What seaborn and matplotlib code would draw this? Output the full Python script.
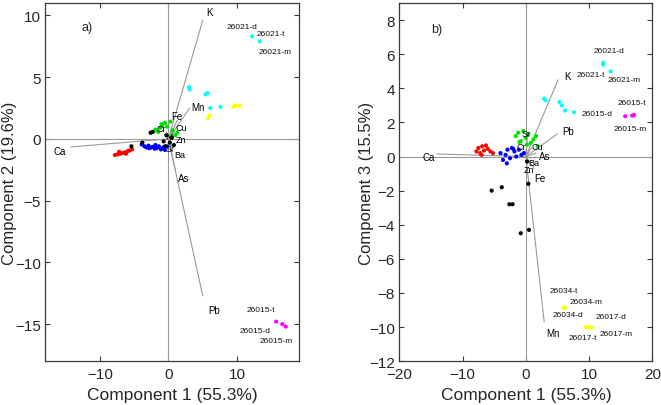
import numpy as np
import pandas as pd
import matplotlib
matplotlib.use("Agg")
import matplotlib.pyplot as plt
import seaborn as sns

# ---------------- data: panel a (Component 1 vs Component 2) ----------------
a_red_x = [-7.8, -7.4, -7.0, -6.7, -6.4, -6.0, -5.7, -5.3, -7.2, -6.2]
a_red_y = [-1.3, -1.25, -1.2, -1.15, -1.1, -1.0, -0.95, -0.85, -1.05, -1.2]
a_blue_x = [-3.9, -3.5, -3.2, -2.9, -2.6, -2.3, -2.0, -1.7, -1.4, -1.1, -0.8, -0.5, -0.2, -2.8, -1.9]
a_blue_y = [-0.45, -0.6, -0.7, -0.55, -0.7, -0.65, -0.8, -0.75, -0.6, -0.85, -0.7, -0.9, -0.6, -0.75, -0.5]
a_green_x = [-2.2, -1.9, -1.5, -1.2, -0.9, -0.5, -0.2, 0.3, 0.6, 1.0, 1.3, -1.0, 0.4]
a_green_y = [0.6, 0.75, 0.55, 0.9, 1.1, 1.3, 1.0, 1.4, 0.7, 0.3, 0.5, 1.2, 0.2]
a_black_x = [-5.4, -3.8, -2.6, -2.3, -0.7, -0.3, 0.2, 0.5, 0.8, -0.5]
a_black_y = [-0.6, -0.3, 0.5, 0.55, -0.2, 0.3, -0.3, 0.1, -0.5, -0.6]
a_cyan_x = [12.2, 13.3, 3.0, 3.1, 5.4, 5.7, 6.1, 7.6]
a_cyan_y = [8.3, 7.9, 4.2, 4.0, 3.6, 3.7, 2.5, 2.6]
a_yellow_x = [9.5, 9.8, 10.4, 5.8, 6.0]
a_yellow_y = [2.6, 2.7, 2.7, 1.7, 1.9]
a_magenta_x = [15.7, 16.6, 17.1]
a_magenta_y = [-14.8, -15.0, -15.2]

a_vars = ["K", "Mn", "Fe", "Ca", "As", "Pb", "Cr", "Cu", "Zn", "Ni", "Sr", "Ba"]
a_load_x = [5.0, 3.1, 1.3, -14.2, 1.0, 5.0, -0.3, 0.9, 0.6, 0.3, 0.4, 0.5]
a_load_y = [9.6, 2.5, 1.5, -0.65, -2.5, -12.7, 0.6, 0.6, 0.1, 0.3, -0.3, -0.6]

a_samples = ["26021-d", "26021-t", "26021-m", "26015-t", "26015-d", "26015-m"]
a_sample_x = [10.8, 15.0, 15.5, 13.5, 12.7, 15.7]
a_sample_y = [9.1, 8.5, 7.1, -13.8, -15.5, -16.3]

# ---------------- data: panel b (Component 1 vs Component 3) ----------------
b_red_x = [-7.8, -7.5, -7.2, -6.9, -6.6, -6.3, -6.0, -5.6, -5.2, -7.0]
b_red_y = [0.3, 0.5, 0.2, 0.6, 0.35, 0.65, 0.45, 0.3, 0.2, 0.1]
b_blue_x = [-4.0, -3.6, -3.2, -2.9, -2.5, -2.2, -1.8, -1.5, -1.1, -0.7, -0.3, -3.0, -2.0]
b_blue_y = [0.2, -0.2, 0.1, 0.4, -0.1, 0.5, 0.3, 0.0, 0.4, 0.1, 0.2, -0.4, 0.45]
b_green_x = [-1.6, -1.2, -0.8, -0.4, 0.0, 0.4, 0.8, 1.2, 1.6, -1.0, 0.2, 1.9]
b_green_y = [1.2, 1.4, 0.9, 1.5, 1.1, 1.3, 0.8, 1.0, 1.2, 0.85, 0.7, 0.6]
b_black_x = [-5.4, -3.8, -2.6, -2.1, -0.8, 0.5, 0.4, 0.2]
b_black_y = [-2.0, -1.8, -2.8, -2.8, -4.5, -4.3, -1.6, -0.3]
b_cyan_x = [12.2, 12.2, 13.4, 2.9, 3.1, 5.3, 5.7, 6.2, 7.6]
b_cyan_y = [5.5, 5.4, 5.0, 3.4, 3.3, 3.2, 3.0, 2.7, 2.6]
b_yellow_x = [6.0, 6.2, 9.5, 9.8, 10.4]
b_yellow_y = [-8.87, -8.87, -10.0, -10.0, -10.03]
b_magenta_x = [15.7, 16.8, 17.1]
b_magenta_y = [2.36, 2.4, 2.44]

b_vars = ["K", "Pb", "Ca", "Fe", "Mn", "Sr", "Cr", "Cu", "As", "Ba", "Zn"]
b_load_x = [5.1, 5.0, -14.0, 1.3, 2.9, 0.2, 0.0, 0.9, 1.6, 0.8, 0.5]
b_load_y = [4.5, 1.33, 0.15, -0.7, -9.7, 1.0, 0.5, 0.5, 0.2, -0.1, -0.3]

b_samples = ["26021-d", "26021-t", "26021-m", "26015-t", "26015-d", "26015-m",
             "26034-t", "26034-m", "26034-d", "26017-d", "26017-t", "26017-m"]
b_sample_x = [13.2, 10.3, 15.6, 16.8, 11.2, 16.5, 6.0, 9.6, 6.7, 13.4, 9.0, 14.2]
b_sample_y = [6.2, 4.8, 4.5, 3.15, 2.5, 1.66, -7.86, -8.5, -9.26, -9.4, -10.6, -10.4]

group_colors = {"red": "#ff0000", "blue": "#0000ff", "green": "#00e000", "black": "#000000",
                "cyan": "#00ffff", "yellow": "#ffff00", "magenta": "#ff00ff"}


def build_frame(prefix):
    g = globals()
    rows = []
    for name in group_colors:
        xs = g[f"{prefix}_{name}_x"]
        ys = g[f"{prefix}_{name}_y"]
        for x, y in zip(xs, ys):
            rows.append({"x": x, "y": y, "group": name})
    return pd.DataFrame(rows)


# label offsets (points) for loading names
a_offsets = {"K": (5, 6), "Mn": (6, 1), "Fe": (0, 3), "Ca": (-8, -3), "As": (6, -6), "Pb": (8, -10),
             "Cr": (-4, 2), "Cu": (5, 3), "Zn": (6, -1), "Ni": (-1, -1), "Sr": (-1, -4), "Ba": (6, -6)}
b_offsets = {"K": (7, 3), "Pb": (8, 2), "Ca": (-6, -2), "Fe": (4, -7), "Mn": (6, -8),
             "Sr": (-1, 4), "Cr": (-3, 1), "Cu": (4, 1), "As": (6, -2), "Ba": (2, -3), "Zn": (0, -6)}
small_vars = {"Cr", "Cu", "Zn", "Ni", "Sr", "Ba"}

sns.set_style("ticks")
plt.rcParams["font.family"] = ["Liberation Sans", "DejaVu Sans"]

fig = plt.figure(figsize=(6.61, 4.06), dpi=100)
ax_a = fig.add_axes([0.068, 0.108, 0.384, 0.882])
ax_b = fig.add_axes([0.604, 0.108, 0.383, 0.882])

spine_col = "#3a3a3a"
line_col = "#9a9a9a"


def draw_panel(ax, prefix, vars_, lx, ly, offsets, samples, sx, sy, xlim, ylim, xticks, yticks,
               ylabel, tag, tagpos, ylabel_x):
    ax.axhline(0, color=line_col, lw=0.8, zorder=1)
    ax.axvline(0, color=line_col, lw=0.8, zorder=1)
    df = build_frame(prefix)
    sns.scatterplot(data=df, x="x", y="y", hue="group", palette=group_colors, s=9,
                    linewidth=0, legend=False, ax=ax, zorder=3)
    for name, x, y in zip(vars_, lx, ly):
        ax.plot([0, x], [0, y], color=line_col, lw=0.8, zorder=2)
        fs = 6.5 if name in small_vars else 7
        ax.annotate(name, (x, y), xytext=offsets[name], textcoords="offset points",
                    ha="center", va="center", fontsize=fs, color="black", zorder=4)
    for name, x, y in zip(samples, sx, sy):
        ax.text(x, y, name, ha="center", va="center", fontsize=6, color="#111111", zorder=4)
    ax.text(tagpos[0], tagpos[1], tag, ha="center", va="center", fontsize=9)
    ax.set_xlim(*xlim)
    ax.set_ylim(*ylim)
    ax.set_xticks(xticks)
    ax.set_yticks(yticks)
    ax.set_xlabel("Component 1 (55.3%)", fontsize=12.5, color="#262626", labelpad=4)
    ax.set_ylabel(ylabel, fontsize=12, color="#262626")
    ax.yaxis.set_label_coords(ylabel_x, 0.5)
    ax.tick_params(direction="in", top=True, right=True, length=3.5, width=0.8,
                   color=spine_col, labelsize=11, labelcolor="#262626", pad=3)
    ax.tick_params(axis="x", pad=4.5)
    for sp in ax.spines.values():
        sp.set_visible(True)
        sp.set_color(spine_col)
        sp.set_linewidth(0.9)


draw_panel(ax_a, "a", a_vars, a_load_x, a_load_y, a_offsets, a_samples, a_sample_x, a_sample_y,
           (-18, 19), (-18, 11), [-10, 0, 10], [-15, -10, -5, 0, 5, 10],
           "Component 2 (19.6%)", "a)", (-11.8, 9.1), -0.112)
draw_panel(ax_b, "b", b_vars, b_load_x, b_load_y, b_offsets, b_samples, b_sample_x, b_sample_y,
           (-20, 20), (-12, 9), [-20, -10, 0, 10, 20], list(range(-12, 9, 2)),
           "Component 3 (15.5%)", "b)", (-14.1, 7.5), -0.1)

fig.savefig("out.png", dpi=100)
